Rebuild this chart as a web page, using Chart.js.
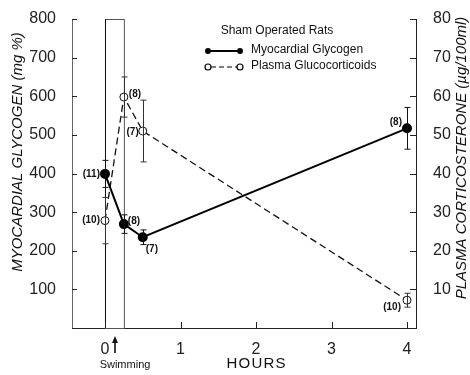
<!DOCTYPE html>
<html>
<head>
<meta charset="utf-8">
<script src="https://cdn.jsdelivr.net/npm/chart.js@4"></script>
<style>
  body { margin: 0; background: #fff; }
  #wrap { width: 470px; height: 375px; }
</style>
</head>
<body>
<div id="wrap"><canvas id="chart" width="470" height="375"></canvas></div>
<script>
// data
const hours = [0, 0.25, 0.5, 4];
const glycogen = [399, 269, 235, 517];        // mg %
const glycogenErr = [35, 24, 19, 54];
const glycogenN = ['(11)', '(8)', '(7)', '(8)'];
const cortico = [27.8, 59.8, 51, 7.2];        // ug/100ml
const corticoErr = [6, 5.2, 8, 1.8];
const corticoN = ['(10)', '(8)', '(7)', '(10)'];
const xTicks = [0, 1, 2, 3, 4];
const leftTicks = [100, 200, 300, 400, 500, 600, 700, 800];
const rightTicks = [10, 20, 30, 40, 50, 60, 70, 80];
const swimWindow = [0, 0.25];

// where the n-labels sit next to their points (dx, dy, align)
const glyLabelPos = [[-5, 0, 'right'], [4, -3, 'left'], [3, 12, 'left'], [-5, -6, 'right']];
const corLabelPos = [[-5, 0, 'right'], [5, -3, 'left'], [-4, 1, 'right'], [-6, 7, 'right']];

const FONT = '"Liberation Sans", Arial, sans-serif';

function fixedSize(prop, size) {
  return function (scale) { scale[prop] = size; };
}

const extras = {
  id: 'extras',
  beforeDatasetsDraw(chart) {
    const ctx = chart.ctx;
    const x = chart.scales.x, y = chart.scales.y;
    // swimming box
    const x0 = x.getPixelForValue(swimWindow[0]);
    const x1 = x.getPixelForValue(swimWindow[1]);
    const yt = y.getPixelForValue(800), yb = y.getPixelForValue(0);
    ctx.save();
    ctx.strokeStyle = '#555';
    ctx.lineWidth = 1;
    ctx.strokeRect(x0 + 0.5, yt + 0.5, x1 - x0, yb - yt);
    ctx.strokeStyle = '#111';
    ctx.beginPath();
    ctx.moveTo(x0 + 0.5, yt);
    ctx.lineTo(x0 + 0.5, yb);
    ctx.stroke();
    ctx.restore();
  },
  afterDatasetsDraw(chart) {
    const ctx = chart.ctx;
    const x = chart.scales.x, y = chart.scales.y, y2 = chart.scales.y2;
    const area = chart.chartArea;
    ctx.save();

    // error bars
    function bars(vals, errs, scale, color) {
      ctx.strokeStyle = color;
      ctx.lineWidth = 1;
      vals.forEach((v, i) => {
        const px = Math.round(x.getPixelForValue(hours[i])) + 0.5;
        const top = scale.getPixelForValue(v + errs[i]);
        const bot = scale.getPixelForValue(v - errs[i]);
        ctx.beginPath();
        ctx.moveTo(px, top); ctx.lineTo(px, bot);
        ctx.moveTo(px - 3, top); ctx.lineTo(px + 3, top);
        ctx.moveTo(px - 3, bot); ctx.lineTo(px + 3, bot);
        ctx.stroke();
      });
    }
    bars(glycogen, glycogenErr, y, '#111');
    bars(cortico, corticoErr, y2, '#333');

    // n labels
    ctx.fillStyle = '#111';
    ctx.font = 'bold 10px ' + FONT;
    ctx.textBaseline = 'middle';
    function nLabels(vals, labels, pos, scale) {
      vals.forEach((v, i) => {
        const px = x.getPixelForValue(hours[i]);
        const py = scale.getPixelForValue(v);
        const p = pos[i];
        ctx.textAlign = p[2];
        ctx.fillText(labels[i], px + p[0], py + p[1]);
      });
    }
    nLabels(glycogen, glycogenN, glyLabelPos, y);
    nLabels(cortico, corticoN, corLabelPos, y2);

    // inward tick marks
    ctx.strokeStyle = '#222';
    ctx.lineWidth = 1;
    ctx.beginPath();
    leftTicks.concat([0]).forEach(v => {
      const py = Math.round(y.getPixelForValue(v)) + 0.5;
      ctx.moveTo(area.left, py); ctx.lineTo(area.left + 5, py);
    });
    rightTicks.forEach(v => {
      const py = Math.round(y2.getPixelForValue(v)) + 0.5;
      ctx.moveTo(area.right, py); ctx.lineTo(area.right - 6, py);
    });
    xTicks.forEach(v => {
      const px = Math.round(x.getPixelForValue(v)) + 0.5;
      ctx.moveTo(px, area.bottom); ctx.lineTo(px, area.bottom - 6);
    });
    ctx.stroke();

    // legend
    const lx = 208, lx2 = 240;
    ctx.font = '12px ' + FONT;
    ctx.textAlign = 'center';
    ctx.fillText('Sham Operated Rats', 277, 31);
    ctx.textAlign = 'left';
    ctx.lineWidth = 2;
    ctx.strokeStyle = '#000';
    ctx.beginPath(); ctx.moveTo(lx, 51); ctx.lineTo(lx2, 51); ctx.stroke();
    [lx, lx2].forEach(cx => {
      ctx.beginPath(); ctx.arc(cx, 51, 3, 0, Math.PI * 2); ctx.fillStyle = '#000'; ctx.fill();
    });
    ctx.lineWidth = 1.2;
    ctx.setLineDash([5, 3]);
    ctx.beginPath(); ctx.moveTo(lx + 3, 67); ctx.lineTo(lx2 - 3, 67); ctx.stroke();
    ctx.setLineDash([]);
    [lx, lx2].forEach(cx => {
      ctx.beginPath(); ctx.arc(cx, 67, 3, 0, Math.PI * 2);
      ctx.fillStyle = '#fff'; ctx.fill(); ctx.stroke();
    });
    ctx.fillStyle = '#111';
    ctx.fillText('Myocardial Glycogen', 251, 50);
    ctx.fillText('Plasma Glucocorticoids', 251, 66);

    // axis titles
    ctx.font = 'italic 15px ' + FONT;
    ctx.save();
    ctx.translate(18, 152);
    ctx.rotate(-Math.PI / 2);
    ctx.textAlign = 'center';
    ctx.fillText('MYOCARDIAL GLYCOGEN (mg %)', 0, 0);
    ctx.restore();
    ctx.save();
    ctx.translate(462, 158);
    ctx.rotate(-Math.PI / 2);
    ctx.textAlign = 'center';
    ctx.fillText('PLASMA CORTICOSTERONE (\u00b5g/100ml)', 0, 0);
    ctx.restore();

    ctx.font = '15px ' + FONT;
    ctx.textAlign = 'center';
    ctx.fillText('H O U R S'.replace(/ /g, '\u200a'), 256, 364);
    ctx.font = '11px ' + FONT;
    ctx.fillText('Swimming', 125, 365);

    // arrow
    ctx.lineWidth = 1.5;
    ctx.beginPath(); ctx.moveTo(115, 353); ctx.lineTo(115, 340); ctx.stroke();
    ctx.beginPath(); ctx.moveTo(115, 336); ctx.lineTo(112, 343); ctx.lineTo(118, 343); ctx.closePath();
    ctx.fill();
    ctx.restore();
  }
};

new Chart(document.getElementById('chart'), {
  type: 'line',
  data: {
    datasets: [
      {
        label: 'Myocardial Glycogen',
        data: hours.map((h, i) => ({ x: h, y: glycogen[i] })),
        yAxisID: 'y',
        borderColor: '#000',
        borderWidth: 2,
        pointRadius: 4,
        pointBackgroundColor: '#000',
        pointBorderColor: '#000',
        tension: 0,
      },
      {
        label: 'Plasma Glucocorticoids',
        data: hours.map((h, i) => ({ x: h, y: cortico[i] })),
        yAxisID: 'y2',
        borderColor: '#111',
        borderWidth: 1.3,
        borderDash: [7, 4],
        pointRadius: 4,
        pointBackgroundColor: '#fff',
        pointBorderColor: '#111',
        pointBorderWidth: 1,
        tension: 0,
      },
    ],
  },
  options: {
    responsive: false,
    animation: false,
    layout: { padding: { top: 19, left: 0, right: 0, bottom: 0 } },
    plugins: { legend: { display: false }, tooltip: { enabled: false } },
    scales: {
      x: {
        type: 'linear',
        min: -0.437,
        max: 4.119,
        afterBuildTicks: s => { s.ticks = xTicks.map(v => ({ value: v })); },
        afterFit: fixedSize('height', 47),
        grid: { display: false },
        border: { color: '#222', width: 1 },
        ticks: { color: '#222', font: { family: FONT, size: 16 }, padding: 4, maxRotation: 0 },
      },
      y: {
        position: 'left',
        min: 0,
        max: 800,
        afterBuildTicks: s => { s.ticks = leftTicks.map(v => ({ value: v })); },
        afterFit: fixedSize('width', 72),
        grid: { display: false },
        border: { color: '#666', width: 1 },
        ticks: { color: '#222', font: { family: FONT, size: 16 }, padding: 8 },
      },
      y2: {
        position: 'right',
        min: 0,
        max: 80,
        afterBuildTicks: s => { s.ticks = rightTicks.map(v => ({ value: v })); },
        afterFit: fixedSize('width', 54),
        grid: { display: false },
        border: { color: '#222', width: 1 },
        ticks: { color: '#222', font: { family: FONT, size: 16 }, padding: 9 },
      },
    },
  },
  plugins: [extras],
});
</script>
</body>
</html>
